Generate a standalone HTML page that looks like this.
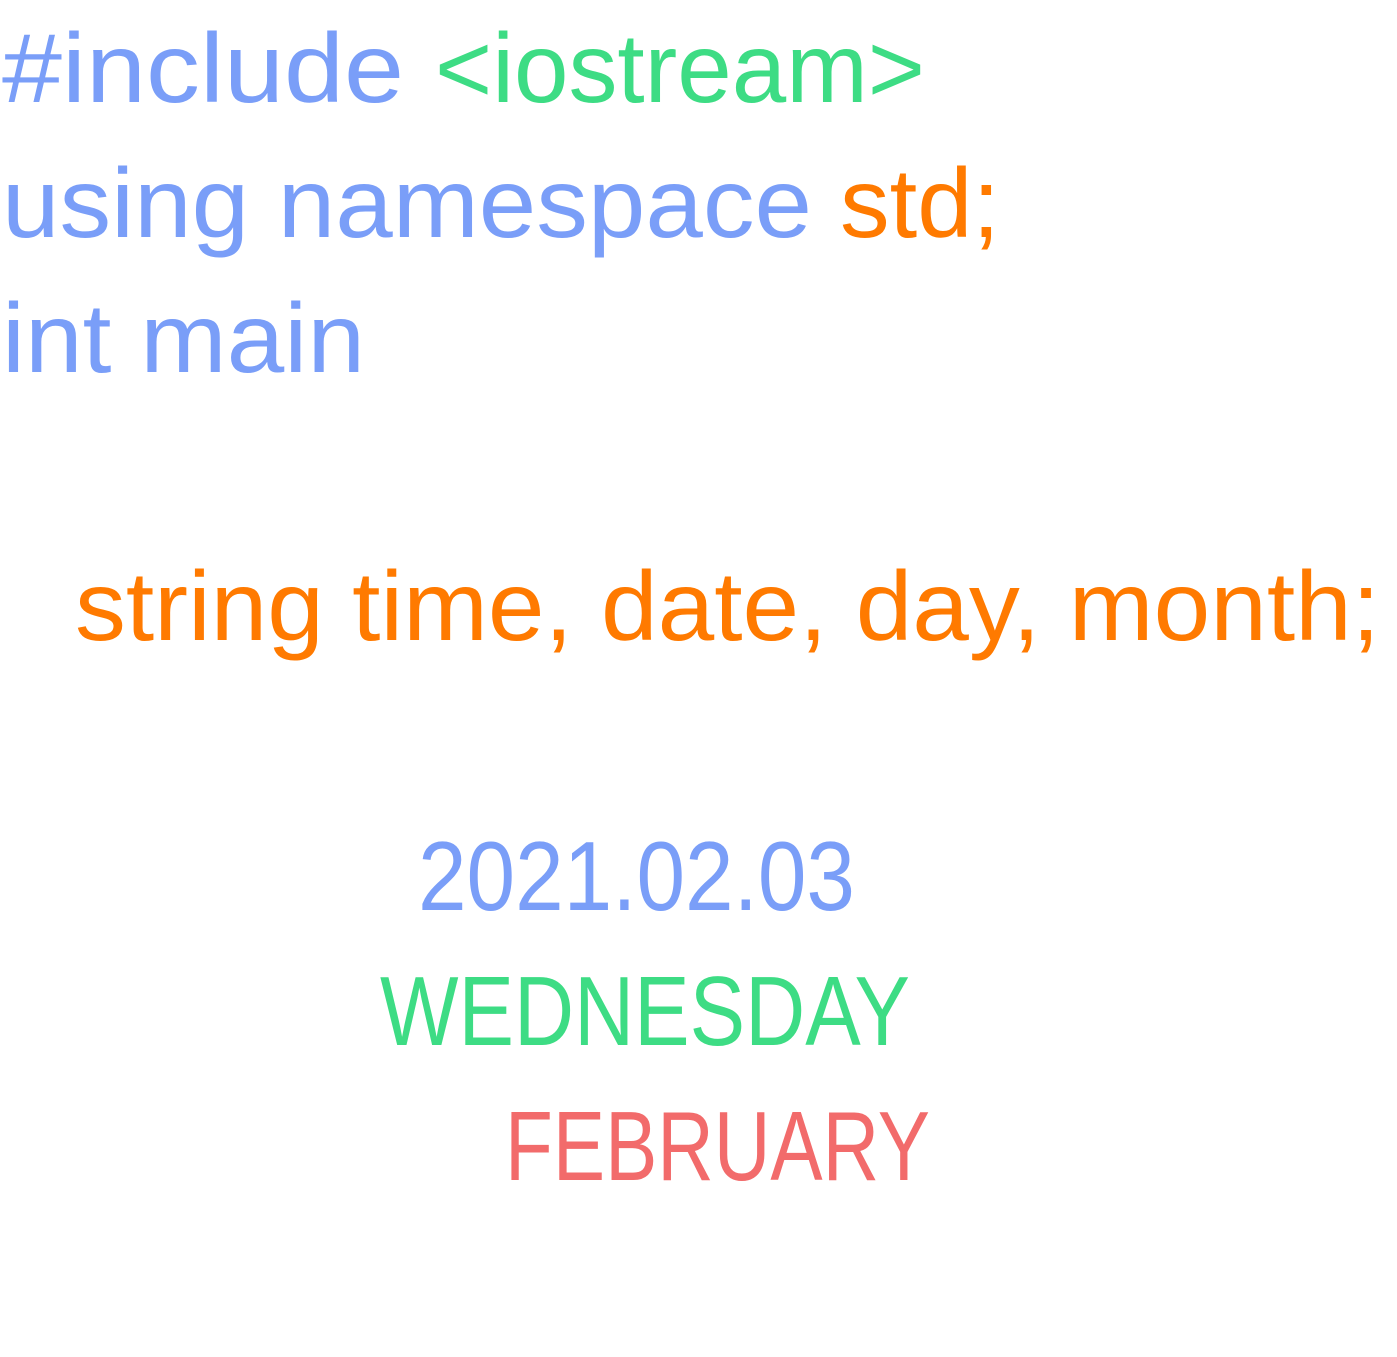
<!DOCTYPE html>
<html><head><meta charset="utf-8"><style>
html,body{margin:0;padding:0;background:#fff;width:1397px;height:1357px;overflow:hidden}
svg{display:block}
text{font-family:"Liberation Sans",sans-serif;font-size:98px}
.b{fill:#7a9ef8}.g{fill:#3ddc84}.o{fill:#ff7a00}.r{fill:#f26b6b}
</style></head><body>
<svg width="1397" height="1357" xmlns="http://www.w3.org/2000/svg">
<text class="b" x="2" y="102" textLength="402" lengthAdjust="spacingAndGlyphs">#include</text>
<text class="g" x="435" y="102" textLength="490" lengthAdjust="spacingAndGlyphs">&lt;iostream&gt;</text>
<text class="b" x="2" y="237" textLength="810" lengthAdjust="spacingAndGlyphs">using namespace</text>
<text class="o" x="840" y="237" textLength="160" lengthAdjust="spacingAndGlyphs">std;</text>
<text class="b" x="2" y="372" textLength="363" lengthAdjust="spacingAndGlyphs">int main</text>
<text class="o" x="75" y="640" textLength="1305" lengthAdjust="spacingAndGlyphs">string time, date, day, month;</text>
<text class="b" x="418" y="910" textLength="437" lengthAdjust="spacingAndGlyphs">2021.02.03</text>
<text class="g" x="380" y="1045" textLength="530" lengthAdjust="spacingAndGlyphs">WEDNESDAY</text>
<text class="r" x="505" y="1180" textLength="425" lengthAdjust="spacingAndGlyphs">FEBRUARY</text>
</svg>
</body></html>
